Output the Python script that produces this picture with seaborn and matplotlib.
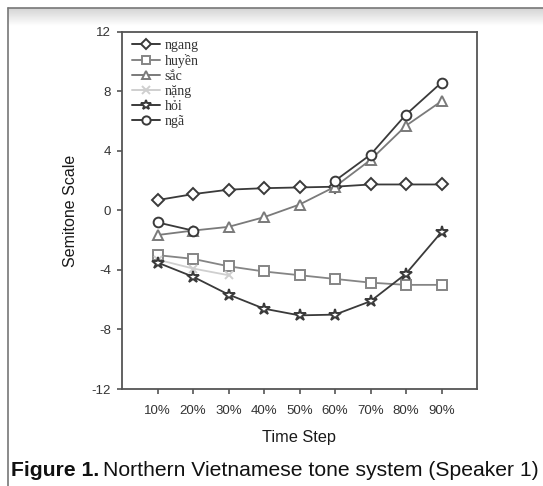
import numpy as np
import pandas as pd
import matplotlib
matplotlib.use("Agg")
import matplotlib.pyplot as plt
import seaborn as sns
from matplotlib.lines import Line2D

# ---- data ----
steps = ["10%", "20%", "30%", "40%", "50%", "60%", "70%", "80%", "90%"]
ngang = [0.7, 1.1, 1.4, 1.5, 1.55, 1.6, 1.75, 1.75, 1.75]
huyen = [-3.0, -3.25, -3.75, -4.1, -4.35, -4.6, -4.85, -5.0, -5.0]
sac = [-1.65, -1.35, -1.1, -0.45, 0.4, 1.6, 3.4, 5.7, 7.35]
nang = [-3.3, -3.9, -4.35, np.nan, np.nan, np.nan, np.nan, np.nan, np.nan]
hoi = [-3.5, -4.45, -5.65, -6.6, -7.05, -7.0, -6.1, -4.25, -1.45]
nga = [-0.8, -1.35, np.nan, np.nan, np.nan, 2.0, 3.75, 6.45, 8.6]

tones = ["ngang", "huyền", "sắc", "nặng", "hỏi", "ngã"]
values = [ngang, huyen, sac, nang, hoi, nga]

yticks = [-12, -8, -4, 0, 4, 8, 12]

# ---- styles ----
styles = {
    "ngang": dict(marker="D", color="#3a3a3a", ms=6.5),
    "huyền": dict(marker="s", color="#858585", ms=6.5),
    "sắc": dict(marker="^", color="#7a7a7a", ms=7),
    "nặng": dict(marker="x", color="#cfcfcf", ms=6),
    "hỏi": dict(marker="*", color="#3a3a3a", ms=9),
    "ngã": dict(marker="o", color="#3a3a3a", ms=7),
}

rows = []
for tone, vals in zip(tones, values):
    seg = 0
    prev_nan = False
    for i, v in enumerate(vals):
        if np.isnan(v):
            prev_nan = True
            continue
        if prev_nan:
            seg += 1
            prev_nan = False
        rows.append(dict(tone=tone, pos=i + 1, step=steps[i], value=v, seg=seg))
df = pd.DataFrame(rows)

sns.set_theme(style="white")
plt.rcParams["font.family"] = ["Liberation Sans", "DejaVu Sans"]
plt.rcParams["axes.unicode_minus"] = False

fig = plt.figure(figsize=(5.43, 4.86), dpi=100)
ax = fig.add_axes([122 / 543, 1 - 389 / 486, 355 / 543, 357 / 486])

for tone in tones:
    st = styles[tone]
    sub = df[df.tone == tone]
    mfc = st["color"] if st["marker"] == "x" else "white"
    sns.lineplot(data=sub, x="pos", y="value", units="seg", estimator=None,
                 ax=ax, color=st["color"], lw=1.3, marker=st["marker"],
                 markersize=st["ms"], markerfacecolor=mfc,
                 markeredgecolor=st["color"], markeredgewidth=1.4,
                 legend=False, zorder=3)

ax.set_xlim(0, 10)
ax.set_ylim(-12, 12)
ax.set_xticks(range(1, len(steps) + 1))
ax.set_xticklabels(steps)
ax.set_yticks(yticks)
ax.set_yticklabels([str(t) for t in yticks])
ax.tick_params(axis="both", which="both", direction="out", length=3.8, width=1.2,
               color="#555555", labelsize=9.5, labelcolor="#333333",
               bottom=True, left=True)
ax.tick_params(axis="x", pad=8)
ax.tick_params(axis="y", pad=4)
for s in ax.spines.values():
    s.set_color("#555555")
    s.set_linewidth(1.3)
ax.set_xlabel("Time Step", fontsize=11.8, color="#1a1a1a", labelpad=9)
ax.set_ylabel("Semitone Scale", fontsize=11.5, color="#1a1a1a", labelpad=10)

handles = []
for tone in tones:
    st = styles[tone]
    mfc = st["color"] if st["marker"] == "x" else "white"
    handles.append(Line2D([0], [0], color=st["color"], lw=1.4, marker=st["marker"],
                          markersize=st["ms"] * 0.85, markerfacecolor=mfc,
                          markeredgecolor=st["color"], markeredgewidth=1.4))
leg = ax.legend(handles, tones, loc="upper left", bbox_to_anchor=(0.01, 1.0),
                frameon=False, handlelength=2.0, handletextpad=0.3,
                labelspacing=0.15, borderaxespad=0.1,
                prop=dict(family="Liberation Serif", size=10))
for t in leg.get_texts():
    t.set_color("#333333")

# screenshot frame: gradient band and border lines
band = fig.add_axes([8 / 543, 1 - 26 / 486, 1 - 8 / 543, 18 / 486])
grad = np.linspace(0.82, 1.0, 50).reshape(-1, 1)
band.imshow(grad, aspect="auto", cmap="gray", vmin=0, vmax=1,
            extent=[0, 1, 0, 1], origin="upper")
band.set_axis_off()
fig.add_artist(Line2D([8 / 543, 1], [1 - 8 / 486, 1 - 8 / 486], color="#777777", lw=1.2))
fig.add_artist(Line2D([8 / 543, 8 / 543], [0, 1 - 8 / 486], color="#777777", lw=1.2))

# caption
t1 = fig.text(11 / 543, 1 - 470 / 486, "Figure 1.", fontsize=15.2, fontweight="bold",
              va="center", ha="left", color="#111111")
fig.canvas.draw()
bb = t1.get_window_extent()
x2 = (bb.x1 + 4) / fig.bbox.width
fig.text(x2, 1 - 470 / 486, "Northern Vietnamese tone system (Speaker 1)", fontsize=15.2,
         va="center", ha="left", color="#111111")

fig.savefig("out.png", dpi=100)
